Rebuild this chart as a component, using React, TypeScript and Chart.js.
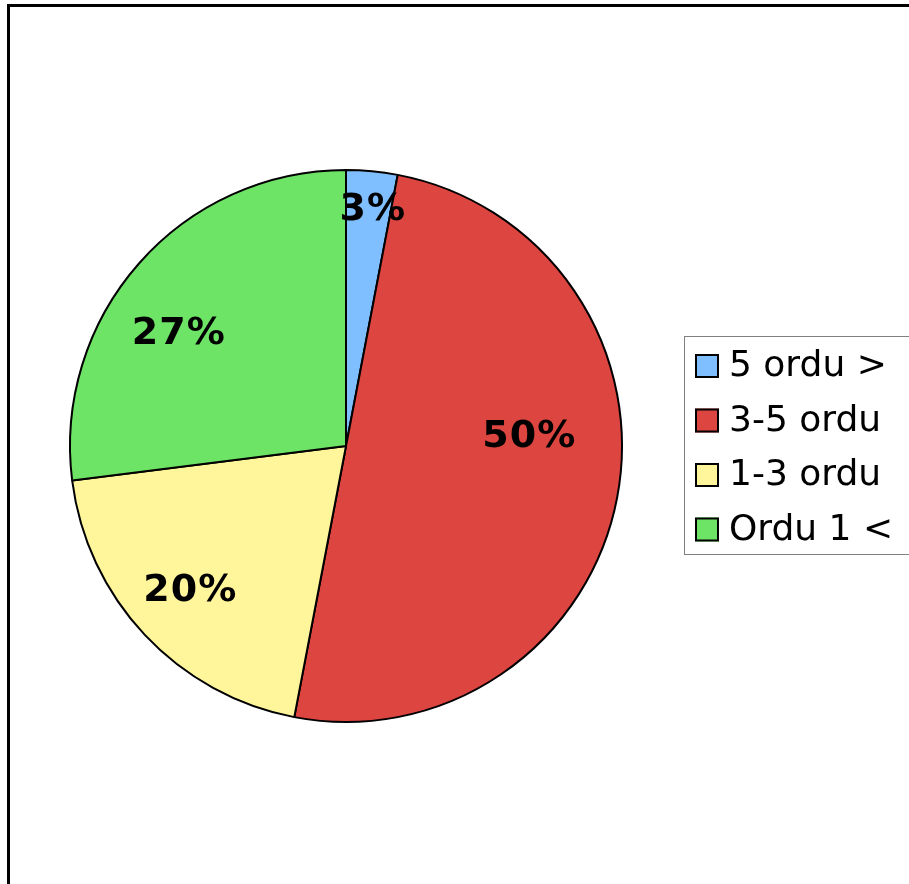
import React, { useEffect, useRef } from "react";
import { Chart, registerables } from "chart.js";

Chart.register(...registerables);

const categories = ["5 ordu >", "3-5 ordu", "1-3 ordu", "Ordu 1 <"];
const shares = [3, 50, 20, 27];
const sliceColors = ["#80BFFF", "#DD4540", "#FFF59B", "#6EE466"];

// label placement relative to each slice: angle shift (deg) from mid-angle, and radius fraction
const labelAngleShift = [1.1, -13.6, 0.3, -7.5];
const labelRadiusFrac = [0.86, 0.665, 0.77, 0.73];

const W = 909;
const H = 884;

const framePlugin = {
  id: "frame",
  beforeDraw(chart: any) {
    const ctx = chart.ctx;
    ctx.save();
    ctx.fillStyle = "#ffffff";
    ctx.fillRect(0, 0, chart.width, chart.height);
    ctx.strokeStyle = "#000000";
    ctx.lineWidth = 3;
    ctx.strokeRect(8.5, 5.5, chart.width + 20, chart.height + 20);
    ctx.restore();
  },
};

const labelPlugin = {
  id: "sliceLabels",
  afterDatasetsDraw(chart: any) {
    const ctx = chart.ctx;
    const meta = chart.getDatasetMeta(0);
    const data = chart.data.datasets[0].data as number[];
    const total = data.reduce((a, b) => a + b, 0);
    ctx.save();
    ctx.font = "bold 38px 'DejaVu Sans'";
    try {
      (ctx as any).letterSpacing = "1px";
    } catch (e) {}
    ctx.fillStyle = "#000000";
    ctx.textAlign = "center";
    ctx.textBaseline = "middle";
    meta.data.forEach((arc: any, i: number) => {
      const p = arc.getProps(["x", "y", "startAngle", "endAngle", "outerRadius"], true);
      const mid = (p.startAngle + p.endAngle) / 2 + (labelAngleShift[i] * Math.PI) / 180;
      const r = p.outerRadius * labelRadiusFrac[i];
      const x = p.x + Math.cos(mid) * r;
      const y = p.y + Math.sin(mid) * r;
      ctx.fillText(Math.round((data[i] / total) * 100) + "%", x, y);
    });
    ctx.restore();
  },
};

const legendPlugin = {
  id: "boxLegend",
  afterDraw(chart: any) {
    const ctx = chart.ctx;
    const labels = chart.data.labels as string[];
    const colors = chart.data.datasets[0].backgroundColor as string[];
    ctx.save();
    ctx.fillStyle = "#ffffff";
    ctx.fillRect(684.5, 336.5, 300, 218);
    ctx.strokeStyle = "#808080";
    ctx.lineWidth = 1;
    ctx.strokeRect(684.5, 336.5, 300, 218);
    ctx.font = "36px 'DejaVu Sans'";
    ctx.textAlign = "left";
    ctx.textBaseline = "middle";
    labels.forEach((lab, i) => {
      const cy = 366 + i * 54.5;
      ctx.fillStyle = colors[i];
      ctx.fillRect(695, cy - 12, 24, 24);
      ctx.strokeStyle = "#000000";
      ctx.lineWidth = 2;
      ctx.strokeRect(696, cy - 11, 22, 22);
      ctx.fillStyle = "#000000";
      ctx.fillText(lab, 729, cy + 1);
    });
    ctx.restore();
  },
};

export default function App() {
  const ref = useRef<HTMLCanvasElement | null>(null);
  useEffect(() => {
    if (!ref.current) return;
    const chart = new Chart(ref.current, {
      type: "pie",
      data: {
        labels: categories,
        datasets: [
          {
            data: shares,
            backgroundColor: sliceColors,
            borderColor: "#000000",
            borderWidth: 2,
          },
        ],
      },
      options: {
        responsive: false,
        animation: false,
        radius: 276,
        layout: { padding: { left: 69, right: 286, top: 169, bottom: 161 } },
        plugins: {
          legend: { display: false },
          tooltip: { enabled: false },
        },
      } as any,
      plugins: [framePlugin, labelPlugin, legendPlugin],
    });
    return () => chart.destroy();
  }, []);
  return (
    <div style={{ position: "fixed", left: 0, top: 0, width: W, height: H, overflow: "hidden" }}>
      <canvas ref={ref} width={W} height={H} style={{ display: "block", width: W, height: H }} />
    </div>
  );
}
